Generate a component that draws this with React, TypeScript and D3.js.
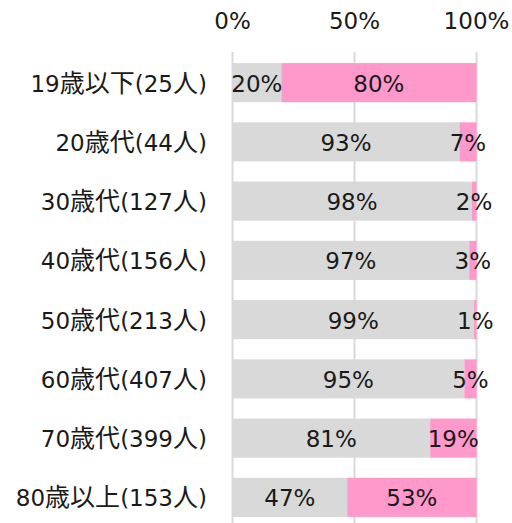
import React from "react";
import * as d3 from "d3";

const categories = ["19歳以下(25人)", "20歳代(44人)", "30歳代(127人)", "40歳代(156人)", "50歳代(213人)", "60歳代(407人)", "70歳代(399人)", "80歳以上(153人)"];
const grayValues = [20, 93, 98, 97, 99, 95, 81, 47];
const pinkValues = [80, 7, 2, 3, 1, 5, 19, 53];
const ticks = [0, 50, 100];

const W = 512, H = 523;
const FONT = "'DejaVu Sans', 'Noto Sans CJK JP', sans-serif";
const CJK_FONT = "'Noto Sans CJK JP', sans-serif";

function MixedText({ text }: { text: string }) {
  const parts = text.match(/[\u3000-\u9fff]+|[^\u3000-\u9fff]+/g) || [];
  return (
    <>
      {parts.map((p, i) =>
        /[\u3000-\u9fff]/.test(p) ? (
          <tspan key={i} fontFamily={CJK_FONT} fontSize={25}>{p}</tspan>
        ) : (
          <tspan key={i}>{p}</tspan>
        )
      )}
    </>
  );
}

export default function App() {
  const x = d3.scaleLinear().domain([0, 100]).range([232.5, 476.5]);
  const y = d3.scaleBand<string>().domain(categories).range([53, 527]).paddingInner(0.34).paddingOuter(0.17);
  const bw = y.bandwidth();
  const fs = 23;
  const dy = 9;
  return (
    <svg width={W} height={H} style={{ position: "absolute", left: 0, top: 0 }} fontFamily={FONT}>
      {ticks.map((t) => (
        <g key={t}>
          <line x1={x(t)} x2={x(t)} y1={52} y2={H} stroke="#d9d9d9" strokeWidth={2} />
          <text x={x(t)} y={28.5} textAnchor="middle" fontSize={fs} fill="#1a1a1a">{t}%</text>
        </g>
      ))}
      {categories.map((c, i) => {
        const y0 = y(c)!;
        const g = grayValues[i], p = pinkValues[i];
        const cy = y0 + bw / 2 + dy;
        return (
          <g key={c}>
            <rect x={x(0)} y={y0} width={x(g) - x(0)} height={bw} fill="#d9d9d9" />
            <rect x={x(g)} y={y0} width={x(g + p) - x(g)} height={bw} fill="#ff99cc" />
            <text x={(x(0) + x(g)) / 2} y={cy} textAnchor="middle" fontSize={fs} fill="#1a1a1a">{g}%</text>
            <text x={(x(g) + x(g + p)) / 2} y={cy} textAnchor="middle" fontSize={fs} fill="#1a1a1a">{p}%</text>
            <text x={207} y={cy} textAnchor="end" fontSize={fs} fill="#1a1a1a"><MixedText text={c} /></text>
          </g>
        );
      })}
    </svg>
  );
}
